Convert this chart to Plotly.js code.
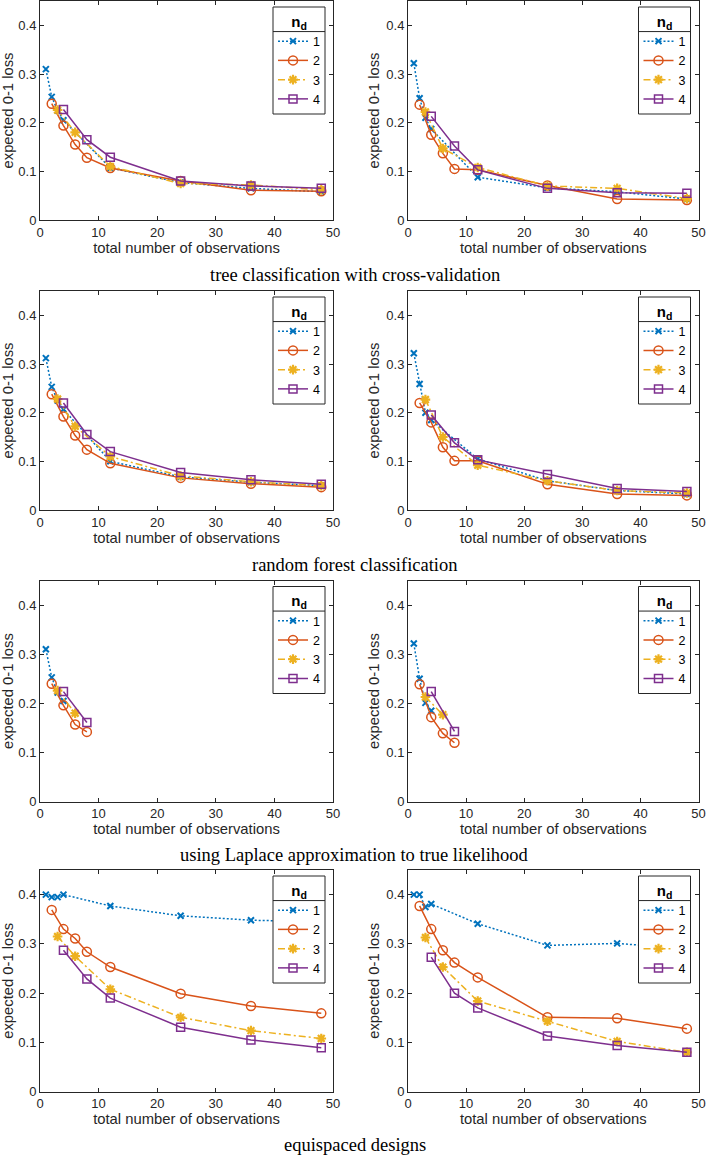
<!DOCTYPE html>
<html>
<head>
<meta charset="utf-8">
<script src="https://cdn.plot.ly/plotly-3.0.1.min.js"></script>
<style>html,body{margin:0;padding:0;background:#fff;}#chart{width:709px;height:1157px;}</style>
</head>
<body>
<div id="chart"></div>
<script>
// x positions (total number of observations) for each n_d series
const xN1 = [1, 2, 3, 4, 12, 24, 36, 48];
const xN2 = [2, 4, 6, 8, 12, 24, 36, 48];
const xN3 = [3, 6, 12, 24, 36, 48];
const xN4 = [4, 8, 12, 24, 36, 48];
const xLap1 = [1, 2, 3, 4];
const xLap2 = [2, 4, 6, 8];
const xLap3 = [3, 6];
const xLap4 = [4, 8];

const seriesNames = ["1", "2", "3", "4"];

// tree classification with cross-validation
const treeL = [
  [0.310, 0.253, 0.225, 0.205, 0.107, 0.077, 0.065, 0.058],
  [0.239, 0.194, 0.155, 0.128, 0.107, 0.080, 0.061, 0.059],
  [0.226, 0.180, 0.110, 0.075, 0.072, 0.062],
  [0.227, 0.165, 0.129, 0.080, 0.070, 0.065]
];
const treeR = [
  [0.322, 0.250, 0.210, 0.187, 0.088, 0.066, 0.058, 0.043],
  [0.237, 0.175, 0.137, 0.105, 0.103, 0.071, 0.043, 0.041],
  [0.222, 0.147, 0.108, 0.070, 0.065, 0.044],
  [0.213, 0.152, 0.103, 0.065, 0.056, 0.055]
];
// random forest classification
const rfL = [
  [0.312, 0.253, 0.225, 0.207, 0.100, 0.068, 0.057, 0.050],
  [0.238, 0.192, 0.153, 0.124, 0.096, 0.066, 0.054, 0.047],
  [0.228, 0.172, 0.110, 0.070, 0.058, 0.050],
  [0.220, 0.155, 0.120, 0.077, 0.062, 0.053]
];
const rfR = [
  [0.322, 0.259, 0.200, 0.185, 0.105, 0.060, 0.040, 0.033],
  [0.220, 0.180, 0.129, 0.101, 0.101, 0.053, 0.033, 0.030],
  [0.227, 0.150, 0.092, 0.060, 0.040, 0.035],
  [0.195, 0.138, 0.103, 0.073, 0.044, 0.038]
];
// Laplace approximation
const lapL = [
  [0.310, 0.253, 0.222, 0.205],
  [0.240, 0.196, 0.157, 0.142],
  [0.226, 0.180],
  [0.224, 0.161]
];
const lapR = [
  [0.322, 0.250, 0.201, 0.185],
  [0.239, 0.172, 0.139, 0.120],
  [0.213, 0.177],
  [0.224, 0.143]
];
// equispaced designs
const eqL = [
  [0.400, 0.395, 0.395, 0.400, 0.377, 0.357, 0.348, 0.345],
  [0.369, 0.330, 0.311, 0.284, 0.253, 0.199, 0.174, 0.159],
  [0.315, 0.275, 0.208, 0.151, 0.124, 0.108],
  [0.287, 0.229, 0.190, 0.131, 0.105, 0.089]
];
const eqR = [
  [0.400, 0.400, 0.375, 0.381, 0.341, 0.297, 0.301, 0.290],
  [0.377, 0.330, 0.287, 0.262, 0.232, 0.151, 0.149, 0.128],
  [0.313, 0.253, 0.184, 0.143, 0.102, 0.080],
  [0.273, 0.200, 0.170, 0.113, 0.094, 0.080]
];

const captions = [
  "tree classification with cross-validation",
  "random forest classification",
  "using Laplace approximation to true likelihood",
  "equispaced designs"
];
const xTickVals = [0, 10, 20, 30, 40, 50];
const yTickVals = [0, 0.1, 0.2, 0.3, 0.4];
const yTickText = ["0", "0.1", "0.2", "0.3", "0.4"];
const xTitle = "total number of observations";
const yTitle = "expected 0-1 loss";

const xFull = [xN1, xN2, xN3, xN4];
const xLap = [xLap1, xLap2, xLap3, xLap4];
const panels = [
  {d: treeL, x: xFull}, {d: treeR, x: xFull},
  {d: rfL, x: xFull}, {d: rfR, x: xFull},
  {d: lapL, x: xLap}, {d: lapR, x: xLap},
  {d: eqL, x: xFull}, {d: eqR, x: xFull}
];

// ---- styling ----
const W = 709, H = 1157;
const colors = ["#0072BD", "#D95319", "#EDB120", "#7E2F8E"];
const dashes = ["2px,2px", "solid", "7px,3px,2px,3px", "solid"];
const symbols = ["x-thin-open", "circle-open", "asterisk-open", "square-open"];
const msizes = [6, 9, 8, 8];
const mwidths = [2, 1.5, 2.2, 1.5];
const axColor = "#262626";
const sans = "'Liberation Sans', Arial, Helvetica, sans-serif";
const serif = "'Liberation Serif', 'Times New Roman', serif";

const colPx = [[40, 333], [408, 698.5]];
const rowPx = [[1, 220], [291, 510], [580.5, 801.7], [870, 1091.7]];
const capY = [275, 565, 855, 1145];

const layout = {
  width: W, height: H,
  margin: {l: 0, r: 0, t: 0, b: 0},
  paper_bgcolor: "#fff", plot_bgcolor: "#fff",
  font: {family: sans, size: 13, color: axColor},
  showlegend: true,
  annotations: [],
  shapes: []
};
const traces = [];
const legendIds = [];

panels.forEach((p, i) => {
  const r = Math.floor(i / 2), c = i % 2;
  const k = i + 1;
  const xa = "xaxis" + (k === 1 ? "" : k), ya = "yaxis" + (k === 1 ? "" : k);
  const xr = "x" + (k === 1 ? "" : k), yr = "y" + (k === 1 ? "" : k);
  const lg = "legend" + (k === 1 ? "" : k);
  legendIds.push(lg);
  const xd = [colPx[c][0] / W, colPx[c][1] / W];
  const yd = [1 - rowPx[r][1] / H, 1 - rowPx[r][0] / H];
  layout[xa] = {
    domain: xd, anchor: yr, range: [0, 50], tickvals: xTickVals,
    ticks: "inside", ticklen: 4, tickwidth: 1, tickcolor: axColor,
    showline: true, linecolor: axColor, linewidth: 1, mirror: "ticks",
    showgrid: false, zeroline: false, ticklabeloverflow: "allow",
    tickfont: {family: sans, size: 13, color: axColor},
    title: {text: xTitle, font: {family: sans, size: 14.8, color: axColor}, standoff: 3}
  };
  layout[ya] = {
    domain: yd, anchor: xr, range: [0, 0.45], tickvals: yTickVals, ticktext: yTickText,
    ticks: "inside", ticklen: 4, tickwidth: 1, tickcolor: axColor,
    showline: true, linecolor: axColor, linewidth: 1, mirror: "ticks",
    showgrid: false, zeroline: false, ticklabeloverflow: "allow",
    tickfont: {family: sans, size: 13, color: axColor},
    title: {text: yTitle, font: {family: sans, size: 14.8, color: axColor}, standoff: 3}
  };
  layout[lg] = {
    x: xd[1] - 8 / W, y: yd[1] - 6 / H, xanchor: "right", yanchor: "top",
    bgcolor: "rgba(255,255,255,0)", bordercolor: axColor, borderwidth: 0,
    font: {family: sans, size: 12.5, color: "#000"},
    itemwidth: 30, tracegroupgap: 0,
    title: {text: "<b>n<sub>d</sub></b>", side: "top center", font: {family: sans, size: 15, color: "#000"}}
  };
  p.d.forEach((ys, s) => {
    traces.push({
      type: "scatter", mode: "lines+markers",
      x: p.x[s], y: ys, name: seriesNames[s],
      xaxis: xr, yaxis: yr, legend: lg,
      line: {color: colors[s], width: 1.5, dash: dashes[s]},
      marker: {symbol: symbols[s], size: msizes[s], color: colors[s], line: {color: colors[s], width: mwidths[s]}}
    });
  });
});

captions.forEach((t, r) => {
  layout.annotations.push({
    text: t, xref: "paper", yref: "paper", x: 0.5, y: 1 - capY[r] / H,
    xanchor: "center", yanchor: "middle", showarrow: false,
    font: {family: serif, size: 18.5, color: "#000"}
  });
});

Plotly.newPlot("chart", traces, layout, {displayModeBar: false, staticPlot: true}).then(gd => {
  // MATLAB-style legend box (white, framed) with a rule under the title,
  // drawn as shapes sized from the rendered legend
  const root = gd.getBoundingClientRect();
  const shapes = [];
  legendIds.forEach(id => {
    const g = gd.querySelector("g." + id);
    if (!g) return;
    const bg = g.querySelector("rect.bg");
    const tt = g.querySelector("text[class*='titletext']");
    const items = g.querySelectorAll("g.traces");
    if (!bg) return;
    const b = bg.getBoundingClientRect();
    const x0 = (b.left - root.left) / W, x1 = (b.right - root.left) / W;
    const y0 = 1 - (b.top - root.top) / H, y1 = 1 - (b.bottom - root.top) / H;
    shapes.push({
      type: "rect", xref: "paper", yref: "paper", x0: x0, x1: x1, y0: y0, y1: y1,
      fillcolor: "#fff", line: {color: axColor, width: 1}, layer: "above"
    });
    if (tt && items.length) {
      const t = tt.getBoundingClientRect();
      const f = items[0].getBoundingClientRect();
      const yPix = (t.bottom + f.top) / 2 - root.top;
      shapes.push({
        type: "line", xref: "paper", yref: "paper", x0: x0, x1: x1,
        y0: 1 - yPix / H, y1: 1 - yPix / H,
        line: {color: axColor, width: 1}, layer: "above"
      });
    }
  });
  if (shapes.length) Plotly.relayout(gd, {shapes: shapes});
});
</script>
</body>
</html>
